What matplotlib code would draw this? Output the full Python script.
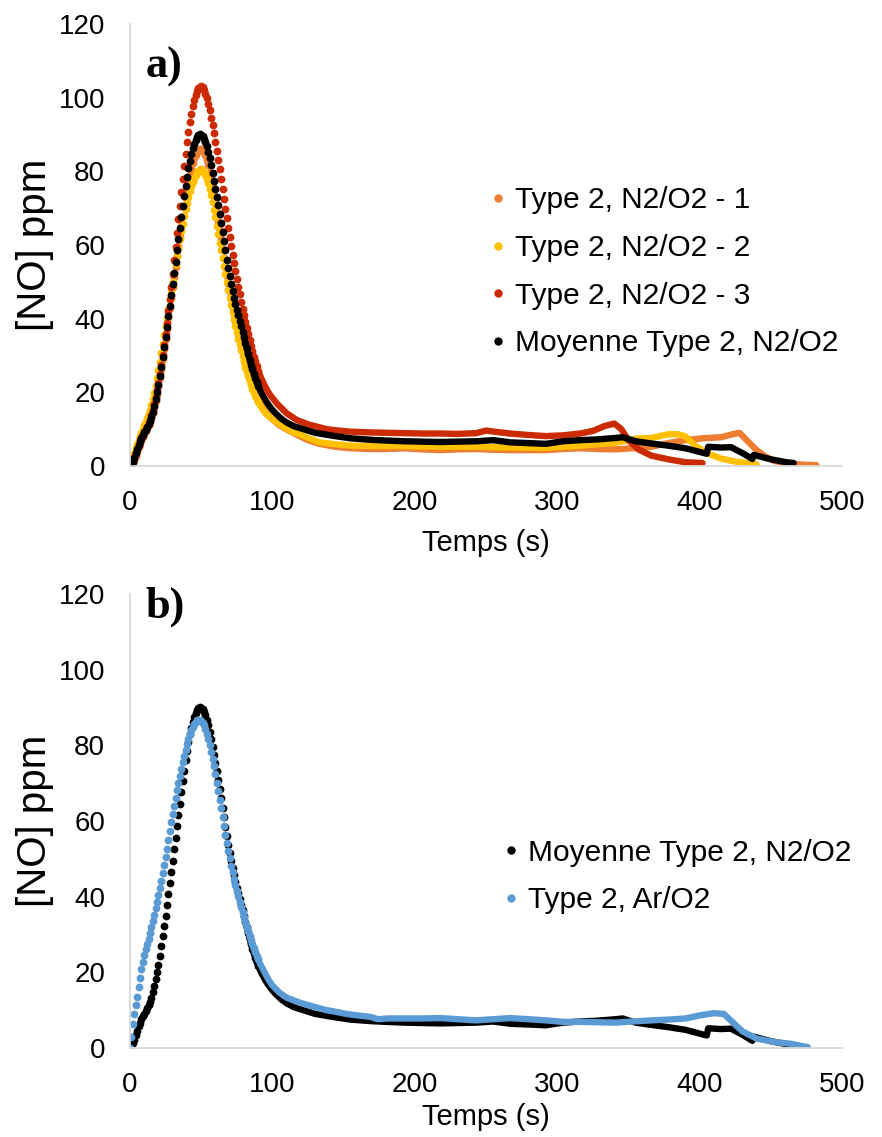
import matplotlib
matplotlib.use("Agg")
import matplotlib.pyplot as plt
from matplotlib.lines import Line2D

plt.rcParams['font.family'] = ['Liberation Sans', 'DejaVu Sans']

# time axis of the 1 s samples around the peak (s)
t_peak = list(range(0, 91))

# [NO] ppm, one value per second, t = 0..90
no_moy = [0.0, 0.4, 1.2, 2.2, 3.4, 4.6, 5.7, 6.7, 7.6, 8.4,
          9.1, 9.8, 10.5, 11.3, 12.2, 13.3, 14.7, 16.3, 18.1, 20.0,
          22.0, 24.4, 27.0, 29.6, 32.2, 35.0, 37.8, 40.6, 43.5, 46.5,
          49.5, 52.5, 55.5, 58.6, 61.6, 64.6, 67.6, 70.5, 73.3, 76.0,
          78.5, 80.8, 82.9, 84.7, 86.2, 87.5, 88.5, 89.3, 89.8, 90.0,
          89.9, 89.5, 88.9, 88.0, 86.8, 85.3, 83.6, 81.7, 79.6, 77.5,
          75.3, 73.1, 70.8, 68.4, 66.0, 63.5, 61.0, 58.5, 56.0, 53.7,
          51.5, 49.4, 47.5, 45.7, 44.0, 42.4, 40.9, 39.4, 37.9, 36.4,
          34.9, 33.4, 31.9, 30.4, 28.9, 27.5, 26.2, 25.0, 23.8, 22.7,
          21.7]
no_1 = [0.0, 0.2, 0.8, 1.7, 2.8, 4.0, 5.1, 6.1, 7.0, 7.9,
        8.7, 9.5, 10.3, 11.1, 12.0, 13.1, 14.4, 15.9, 17.6, 19.5,
        21.6, 23.9, 26.4, 29.0, 31.7, 34.5, 37.3, 40.1, 42.9, 45.7,
        48.5, 51.3, 54.1, 56.9, 59.7, 62.5, 65.2, 67.8, 70.3, 72.7,
        75.0, 77.1, 79.0, 80.7, 82.2, 83.5, 84.5, 85.3, 85.8, 86.1,
        86.1, 85.8, 85.2, 84.3, 83.1, 81.6, 79.9, 78.0, 75.9, 73.7,
        71.4, 69.0, 66.5, 64.0, 61.5, 59.0, 56.5, 54.1, 51.7, 49.5,
        47.3, 45.2, 43.2, 41.3, 39.4, 37.6, 35.9, 34.2, 32.6, 31.0,
        29.5, 28.1, 26.7, 25.4, 24.2, 23.0, 21.9, 20.9, 19.9, 19.0,
        18.1]
no_2 = [0.0, 1.0, 2.3, 3.6, 4.8, 5.9, 7.0, 8.0, 9.0, 10.0,
        11.0, 12.0, 13.0, 14.1, 15.3, 16.6, 18.1, 19.8, 21.7, 23.8,
        26.0, 28.3, 30.7, 33.1, 35.5, 37.9, 40.3, 42.7, 45.1, 47.5,
        49.9, 52.3, 54.7, 57.0, 59.3, 61.5, 63.7, 65.8, 67.8, 69.7,
        71.5, 73.1, 74.6, 75.9, 77.1, 78.1, 79.0, 79.7, 80.2, 80.5,
        80.5, 80.2, 79.7, 78.9, 77.9, 76.7, 75.2, 73.5, 71.6, 69.6,
        67.5, 65.2, 62.9, 60.6, 58.5, 56.5, 54.3, 52.1, 49.9, 47.8,
        45.7, 43.7, 41.8, 39.9, 38.1, 36.3, 34.6, 33.0, 31.4, 29.9,
        28.4, 27.0, 25.7, 24.4, 23.2, 22.1, 21.0, 20.0, 19.1, 18.2,
        17.4]
no_3 = [0.0, 0.5, 1.3, 2.3, 3.4, 4.5, 5.6, 6.6, 7.5, 8.3,
        9.1, 9.9, 10.7, 11.6, 12.6, 13.8, 15.2, 16.8, 18.6, 20.5,
        22.6, 24.9, 27.4, 30.0, 32.8, 35.7, 38.8, 42.0, 45.3, 48.7,
        52.2, 55.8, 59.5, 63.2, 67.0, 70.7, 74.4, 78.0, 81.5, 84.8,
        87.9, 90.7, 93.3, 95.6, 97.6, 99.3, 100.7, 101.8, 102.6, 103.0,
        103.1, 102.8, 102.1, 101.1, 99.8, 98.2, 96.6, 94.6, 92.5, 90.3,
        88.0, 85.6, 83.1, 80.5, 77.9, 75.2, 72.5, 69.8, 67.2, 64.6,
        62.1, 59.7, 57.3, 55.0, 52.8, 50.7, 48.6, 46.6, 44.6, 42.7,
        40.9, 39.1, 37.4, 35.7, 34.1, 32.6, 31.1, 29.7, 28.4, 27.1,
        25.9]
no_ar = [0.0, 3.0, 6.3, 9.0, 11.3, 13.5, 16.0, 18.5, 20.8, 22.8,
         24.6, 26.1, 27.5, 28.9, 30.4, 32.0, 33.6, 35.2, 36.9, 38.6,
         40.4, 42.3, 44.2, 46.2, 48.3, 50.5, 52.7, 55.0, 57.3, 59.6,
         61.8, 64.0, 66.1, 68.1, 70.0, 71.9, 73.7, 75.5, 77.2, 78.8,
         80.3, 81.7, 82.9, 84.0, 84.9, 85.7, 86.2, 86.6, 86.8, 86.8,
         86.5, 86.0, 85.3, 84.3, 83.1, 81.7, 80.1, 78.3, 76.4, 74.4,
         72.3, 70.1, 67.9, 65.6, 63.3, 61.0, 58.7, 56.4, 54.2, 52.1,
         50.1, 48.2, 46.4, 44.7, 43.1, 41.6, 40.1, 38.7, 37.3, 36.0,
         34.7, 33.4, 32.1, 30.9, 29.7, 28.5, 27.4, 26.3, 25.3, 24.3,
         23.4]

# slow tail after 90 s (time s, [NO] ppm)
tail_moy_t = [92, 94, 96, 98, 100, 103, 106, 110, 115, 120, 130, 144, 155, 169, 180,
              193, 205, 218, 230, 243, 255, 267, 280, 292, 304, 316, 328, 341, 346,
              355, 366, 378, 390, 398, 405, 406, 415, 422, 430, 437, 438, 450, 461, 466]
tail_moy_v = [20.0, 18.6, 17.3, 16.2, 15.2, 14.0, 12.9, 11.8, 10.8, 10.2, 9.0, 8.1, 7.5, 7.1, 6.9,
              6.7, 6.6, 6.5, 6.6, 6.7, 7.0, 6.4, 6.2, 6.0, 6.7, 7.0, 7.2, 7.6, 7.8,
              6.7, 6.1, 5.5, 4.8, 4.0, 3.3, 5.2, 5.0, 5.1, 3.5, 1.9, 3.0, 1.8, 1.0, 0.8]
tail_1_t = [92, 95, 98, 105, 112, 119, 125, 133, 144, 155, 169, 180, 193, 205, 218, 230,
            243, 255, 267, 280, 292, 304, 316, 328, 341, 353, 366, 378, 390, 402, 415,
            422, 428, 433, 440, 446, 452, 460, 470, 482]
tail_1_v = [16.6, 14.8, 13.3, 11.0, 9.5, 8.1, 7.0, 6.0, 5.2, 4.8, 4.6, 4.6, 4.8, 4.5, 4.3, 4.5,
            4.6, 4.4, 4.3, 4.3, 4.3, 4.6, 4.8, 4.6, 4.5, 4.8, 5.2, 6.2, 7.0, 7.5, 7.8,
            8.5, 9.0, 7.0, 4.3, 2.6, 1.4, 0.8, 0.4, 0.2]
tail_2_t = [92, 95, 98, 105, 114, 119, 125, 133, 144, 155, 169, 180, 193, 218, 243, 267,
            292, 316, 341, 355, 366, 378, 385, 390, 397, 405, 415, 425, 440]
tail_2_v = [16.0, 14.3, 13.3, 11.3, 9.2, 8.6, 7.6, 6.4, 5.9, 5.5, 5.4, 5.4, 5.4, 5.2, 5.2, 5.0,
            4.9, 5.5, 6.3, 7.4, 7.6, 8.6, 8.6, 8.0, 5.5, 3.5, 2.0, 1.2, 0.4]
tail_3_t = [92, 95, 98, 103, 110, 117, 125, 138, 144, 155, 169, 180, 193, 205, 218, 230,
            243, 250, 258, 267, 280, 292, 304, 316, 325, 333, 340, 345, 350, 357, 366,
            378, 390, 402]
tail_3_v = [24.0, 21.5, 19.5, 17.0, 14.3, 12.5, 11.3, 10.0, 9.7, 9.3, 9.1, 9.0, 8.9, 8.8, 8.8, 8.7,
            8.9, 9.6, 9.2, 8.8, 8.4, 8.1, 8.3, 8.8, 9.5, 10.8, 11.5, 10.0, 7.0, 4.5, 2.8,
            1.8, 1.0, 0.8]
tail_ar_t = [92, 95, 98, 100, 105, 110, 119, 130, 138, 144, 152, 160, 169, 174, 181, 193,
             205, 218, 230, 243, 255, 267, 280, 292, 304, 316, 328, 341, 353, 366, 378,
             390, 400, 410, 417, 424, 430, 440, 452, 464, 476]
tail_ar_v = [21.8, 19.6, 17.6, 16.5, 14.6, 13.3, 12.0, 10.8, 10.0, 9.6, 9.0, 8.6, 8.2, 7.6, 7.8, 7.8,
             7.8, 7.9, 7.6, 7.3, 7.6, 7.9, 7.6, 7.3, 6.9, 6.9, 6.8, 6.7, 7.0, 7.3, 7.5,
             7.8, 8.6, 9.2, 9.0, 6.5, 4.4, 2.5, 1.6, 1.1, 0.2]

labels_a = ["Type 2, N2/O2 - 1", "Type 2, N2/O2 - 2", "Type 2, N2/O2 - 3",
            "Moyenne Type 2, N2/O2"]
labels_b = ["Moyenne Type 2, N2/O2", "Type 2, Ar/O2"]

c_1 = "#ED7D31"
c_2 = "#FFC000"
c_3 = "#CC2A00"
c_moy = "#000000"
c_ar = "#5B9BD5"

fig = plt.figure(figsize=(8.82, 11.37), dpi=100)
ax_a = fig.add_axes([0.1474, 0.5902, 0.8073, 0.3887])
ax_b = fig.add_axes([0.1474, 0.0783, 0.8073, 0.3993])


def draw(ax, vals, tail_t, tail_v, color):
    ax.plot(t_peak, vals, 'o', ms=5.6, mew=0, color=color)
    ax.plot(t_peak[80:] + tail_t, vals[80:] + tail_v, '-', lw=4.6, color=color,
            solid_capstyle='round', solid_joinstyle='round')


draw(ax_a, no_1, tail_1_t, tail_1_v, c_1)
draw(ax_a, no_2, tail_2_t, tail_2_v, c_2)
draw(ax_a, no_3, tail_3_t, tail_3_v, c_3)
draw(ax_a, no_moy, tail_moy_t, tail_moy_v, c_moy)

draw(ax_b, no_moy, tail_moy_t, tail_moy_v, c_moy)
draw(ax_b, no_ar, tail_ar_t, tail_ar_v, c_ar)

for ax, tag, xl_y, tag_y in ((ax_a, "a)", -0.142, 0.903), (ax_b, "b)", -0.121, 0.971)):
    ax.set_xlim(0, 500)
    ax.set_ylim(0, 120)
    ax.set_xticks(range(0, 501, 100))
    ax.set_yticks(range(0, 121, 20))
    ax.tick_params(length=0, labelsize=20)
    ax.tick_params(axis='y', pad=18)
    ax.tick_params(axis='x', pad=17)
    for s in ("top", "right"):
        ax.spines[s].set_visible(False)
    for s in ("left", "bottom"):
        ax.spines[s].set_color("#D9D9D9")
        ax.spines[s].set_linewidth(1.3)
    ax.set_xlabel("Temps (s)", fontsize=21)
    ax.set_ylabel("[NO] ppm", fontsize=29)
    ax.xaxis.set_label_coords(0.5, xl_y)
    ax.yaxis.set_label_coords(-0.107, 0.5)
    ax.text(0.022, tag_y, tag, transform=ax.transAxes, fontsize=32,
            fontweight='bold', family='Liberation Serif', va='center', ha='left')

h_a = [Line2D([], [], ls='none', marker='o', ms=6, mew=0, color=c)
       for c in (c_1, c_2, c_3, c_moy)]
ax_a.legend(h_a, labels_a, loc='center left', bbox_to_anchor=(0.488, 0.439),
            frameon=False, fontsize=21.5, handlelength=0.6, handletextpad=0.27,
            labelspacing=0.66, borderaxespad=0)
h_b = [Line2D([], [], ls='none', marker='o', ms=6, mew=0, color=c)
       for c in (c_moy, c_ar)]
ax_b.legend(h_b, labels_b, loc='center left', bbox_to_anchor=(0.506, 0.378),
            frameon=False, fontsize=21.5, handlelength=0.6, handletextpad=0.25,
            labelspacing=0.66, borderaxespad=0)

fig.savefig("out.png", dpi=100)
